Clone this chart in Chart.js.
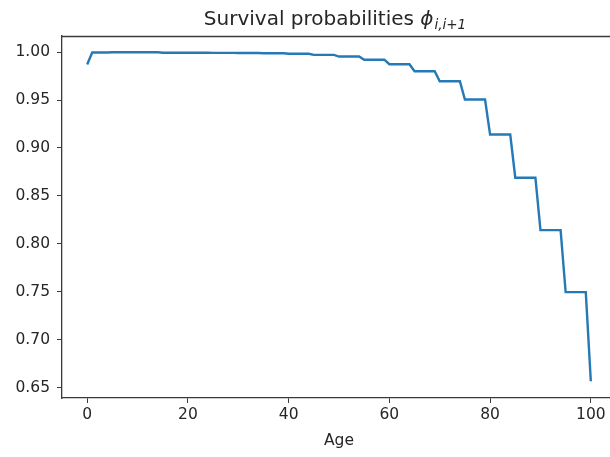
<!DOCTYPE html>
<html>
<head>
<meta charset="utf-8">
<script src="https://cdn.jsdelivr.net/npm/chart.js@4.4.0/dist/chart.umd.min.js"></script>
<style>
  html, body { margin: 0; padding: 0; background: #fff; overflow: hidden; }
  #wrap { width: 610px; height: 457px; overflow: hidden; }
  #chart { display: block; }
</style>
</head>
<body>
<div id="wrap"><canvas id="chart" width="630" height="457"></canvas></div>
<script>
// ages 0..100
const ages = [
    0, 1, 2, 3, 4, 5, 6, 7, 8, 9,
    10, 11, 12, 13, 14, 15, 16, 17, 18, 19,
    20, 21, 22, 23, 24, 25, 26, 27, 28, 29,
    30, 31, 32, 33, 34, 35, 36, 37, 38, 39,
    40, 41, 42, 43, 44, 45, 46, 47, 48, 49,
    50, 51, 52, 53, 54, 55, 56, 57, 58, 59,
    60, 61, 62, 63, 64, 65, 66, 67, 68, 69,
    70, 71, 72, 73, 74, 75, 76, 77, 78, 79,
    80, 81, 82, 83, 84, 85, 86, 87, 88, 89,
    90, 91, 92, 93, 94, 95, 96, 97, 98, 99,
    100
];

// survival probability phi_{i,i+1} (5-year groups)
const survival = [
    0.9870, 0.9995, 0.9995, 0.9995, 0.9995,
    0.9997, 0.9997, 0.9997, 0.9997, 0.9997,
    0.9997, 0.9997, 0.9997, 0.9997, 0.9997,
    0.9993, 0.9993, 0.9993, 0.9993, 0.9993,
    0.9992, 0.9992, 0.9992, 0.9992, 0.9992,
    0.9991, 0.9991, 0.9991, 0.9991, 0.9991,
    0.9990, 0.9990, 0.9990, 0.9990, 0.9990,
    0.9987, 0.9987, 0.9987, 0.9987, 0.9987,
    0.9982, 0.9982, 0.9982, 0.9982, 0.9982,
    0.9970, 0.9970, 0.9970, 0.9970, 0.9970,
    0.9953, 0.9953, 0.9953, 0.9953, 0.9953,
    0.9920, 0.9920, 0.9920, 0.9920, 0.9920,
    0.9873, 0.9873, 0.9873, 0.9873, 0.9873,
    0.9800, 0.9800, 0.9800, 0.9800, 0.9800,
    0.9696, 0.9696, 0.9696, 0.9696, 0.9696,
    0.9505, 0.9505, 0.9505, 0.9505, 0.9505,
    0.9140, 0.9140, 0.9140, 0.9140, 0.9140,
    0.8690, 0.8690, 0.8690, 0.8690, 0.8690,
    0.8144, 0.8144, 0.8144, 0.8144, 0.8144,
    0.7498, 0.7498, 0.7498, 0.7498, 0.7498,
    0.6570
];

const xTicks = [0, 20, 40, 60, 80, 100];
const yTicks = [0.65, 0.70, 0.75, 0.80, 0.85, 0.90, 0.95, 1.00];

const TEXT = '#262626';
const AXIS = '#3a3a3a';
const FONT = '"DejaVu Sans", sans-serif';

// 上框線 (matplotlib 的 top spine)
const framePlugin = {
    id: 'frame',
    afterDraw(chart) {
        const { ctx, chartArea } = chart;
        ctx.save();
        ctx.strokeStyle = AXIS;
        ctx.lineWidth = 1.3;
        ctx.beginPath();
        ctx.moveTo(chartArea.left, chartArea.top + 0.5);
        ctx.lineTo(chartArea.right, chartArea.top + 0.5);
        ctx.stroke();
        ctx.restore();
    }
};

// 標題含數學下標 φ_{i,i+1}
const titlePlugin = {
    id: 'mathTitle',
    afterDraw(chart) {
        const { ctx, chartArea } = chart;
        const main = 'Survival probabilities ';
        const sym = 'ϕ';
        const sub = 'i,i+1';
        const mainFont = '20px ' + FONT;
        const symFont = 'italic 20px ' + FONT;
        const subFont = 'italic 13.5px ' + FONT;

        ctx.save();
        ctx.fillStyle = TEXT;
        ctx.textBaseline = 'alphabetic';
        ctx.textAlign = 'left';
        ctx.font = mainFont; const w1 = ctx.measureText(main).width;
        ctx.font = symFont;  const w2 = ctx.measureText(sym).width;
        ctx.font = subFont;  const w3 = ctx.measureText(sub).width;
        const total = w1 + w2 + 1 + w3;
        let x = (chartArea.left + chartArea.right) / 2 - total / 2 - 4;
        const base = 25;
        ctx.font = mainFont; ctx.fillText(main, x, base); x += w1;
        ctx.font = symFont;  ctx.fillText(sym, x, base);  x += w2 + 1;
        ctx.font = subFont;  ctx.fillText(sub, x, base + 4);
        ctx.restore();
    }
};

const tickFont = { family: FONT, size: 15.5 };

new Chart(document.getElementById('chart').getContext('2d'), {
    type: 'line',
    data: {
        datasets: [{
            data: ages.map((a, i) => ({ x: a, y: survival[i] })),
            borderColor: '#2479b6',
            borderWidth: 2.4,
            pointRadius: 0,
            fill: false,
            tension: 0
        }]
    },
    options: {
        responsive: false,
        animation: false,
        layout: { padding: { top: 36, right: 14, left: 0, bottom: 0 } },
        plugins: {
            legend: { display: false },
            title: { display: false },
            tooltip: { enabled: false }
        },
        scales: {
            x: {
                type: 'linear',
                min: -5,
                max: 105,
                afterBuildTicks: s => { s.ticks = xTicks.map(v => ({ value: v })); },
                afterFit: s => { s.height = 59; },
                ticks: { font: tickFont, color: TEXT, padding: 3, maxRotation: 0, autoSkip: false },
                grid: { drawOnChartArea: false, drawTicks: true, tickLength: 5, color: AXIS, lineWidth: 1 },
                border: { display: true, color: AXIS, width: 1.3 },
                title: { display: true, text: 'Age', font: tickFont, color: TEXT, padding: { top: 0, bottom: 7 } }
            },
            y: {
                type: 'linear',
                min: 0.6395,
                max: 1.0167,
                afterBuildTicks: s => { s.ticks = yTicks.map(v => ({ value: v })); },
                afterFit: s => { s.width = 62; },
                ticks: { font: tickFont, color: TEXT, padding: 7, callback: v => v.toFixed(2) },
                grid: { drawOnChartArea: false, drawTicks: true, tickLength: 5, color: AXIS, lineWidth: 1 },
                border: { display: true, color: AXIS, width: 1.3 }
            }
        }
    },
    plugins: [framePlugin, titlePlugin]
});
</script>
</body>
</html>
